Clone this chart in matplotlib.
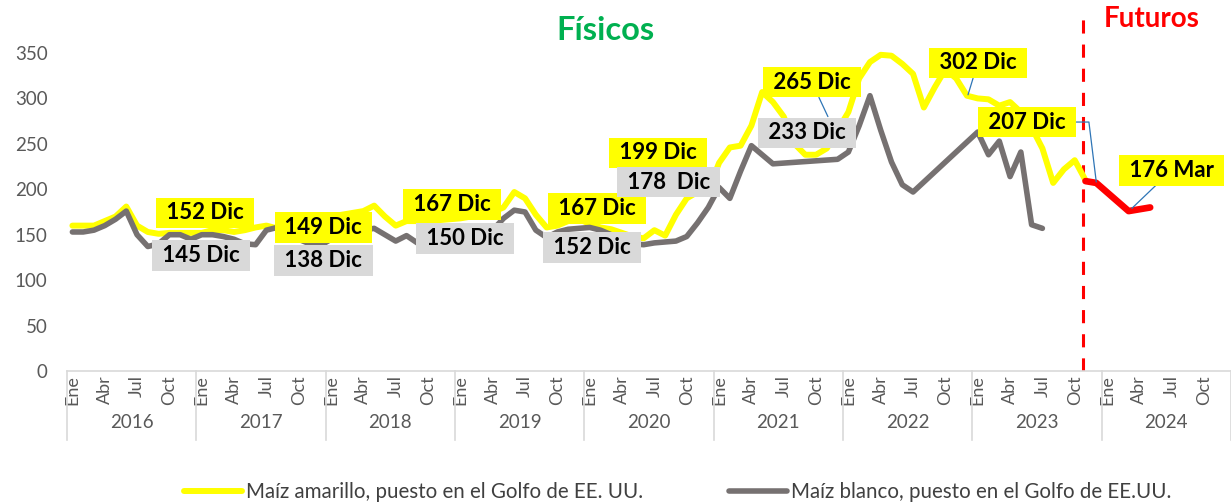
import numpy as np
import matplotlib
matplotlib.use('Agg')
import matplotlib.pyplot as plt
from matplotlib.lines import Line2D

plt.rcParams['font.family'] = ['Lato', 'DejaVu Sans']

# ------------ datos --------------------- #
years = [2016, 2017, 2018, 2019, 2020, 2021, 2022, 2023, 2024]
month_ticks = ['Ene', 'Abr', 'Jul', 'Oct']

# Maiz amarillo, Golfo EE.UU. (mensual desde Ene 2016)
amarillo = [160, 160, 160, 165, 170, 181, 160, 153, 151, 152, 152, 152,
            152, 155, 155, 153, 155, 158, 160, 157, 152, 150, 150, 149,
            170, 172, 174, 176, 182, 170, 160, 165, 165, 165, 166, 167,
            168, 170, 172, 175, 180, 197, 190, 172, 158, 160, 165, 167,
            162, 158, 156, 152, 148, 146, 155, 149, 172, 190, 197, 199,
            229, 246, 248, 270, 307, 296, 280, 250, 238, 238, 245, 265,
            285, 322, 340, 348, 347, 338, 327, 290, 312, 332, 322, 303,
            300, 299, 292, 296, 285, 268, 245, 207, 222, 232, 210]

# Maiz blanco, Golfo EE.UU. (nan = sin dato, la linea une los puntos)
nan = np.nan
blanco = [153, 153, 155, 160, 167, 176, 150, 137, 140, 150, 150, 145,
          150, 150, 148, 145, 140, 139, 155, 158, 150, 145, 140, 138,
          145, 148, 150, 155, 157, 150, 143, 149, 141, 144, 147, 150,
          150, 148, 150, 155, 168, 177, 175, 155, 147, 153, 156, 157,
          158, 155, 150, 145, 140, 139, 141, 142, 143, 148, 163, 180,
          202, 190, 220, 248, 238, 228, nan, nan, nan, nan, nan, 233,
          241, 270, 303, 265, 230, 205, 197, nan, nan, nan, nan, nan,
          263, 238, 253, 214, 241, 161, 157]

# Futuros (indice de mes, valor)
fut_mes = [94, 95, 98, 100]
futuros = [209, 207, 176, 180]
corte_mes = 93.8

# etiquetas: texto, color de caja, posicion (mes, valor), punto de la guia o None
etiquetas = [
    ('152 Dic', '#FFFF00', (12.3, 174), None),
    ('145 Dic', '#D9D9D9', (11.9, 127), None),
    ('149 Dic', '#FFFF00', (23.3, 158), None),
    ('138 Dic', '#D9D9D9', (23.3, 122), None),
    ('167 Dic', '#FFFF00', (35.2, 183), None),
    ('150 Dic', '#D9D9D9', (36.4, 146), None),
    ('167 Dic', '#FFFF00', (48.7, 179), None),
    ('152 Dic', '#D9D9D9', (48.2, 136), None),
    ('199 Dic', '#FFFF00', (54.3, 240), None),
    ('178  Dic', '#D9D9D9', (55.3, 208), None),
    ('265 Dic', '#FFFF00', (68.6, 318), (70.1, 280)),
    ('233 Dic', '#D9D9D9', (68.2, 262), None),
    ('302 Dic', '#FFFF00', (84.0, 339), (83.1, 304)),
    ('207 Dic', '#FFFF00', (88.6, 274), (95.0, 208)),
    ('176 Mar', '#FFFF00', (102.0, 221), (98.3, 179)),
]

# ------------ figura --------------------- #
fig = plt.figure(figsize=(12.31, 5.03), dpi=100)
ax = fig.add_axes([67/1231, 132/503, 1164/1231, 361/503])

x_am = np.arange(len(amarillo))
x_bl = np.arange(len(blanco))
bl = np.array(blanco, dtype=float)
ok = ~np.isnan(bl)

l1, = ax.plot(x_am, amarillo, color='#FFFF00', lw=4.3, solid_capstyle='round',
              solid_joinstyle='round', zorder=2)
l2, = ax.plot(x_bl[ok], bl[ok], color='#767171', lw=4.0, solid_capstyle='round',
              solid_joinstyle='round', zorder=3)
ax.plot(fut_mes, futuros, color='#FF0000', lw=4.8, solid_capstyle='round',
        solid_joinstyle='round', zorder=4)

ax.axvline(corte_mes, color='#FF0000', lw=2.2, ls=(0, (4.3, 3.6)), zorder=1)

for txt, fc, pos, guia in etiquetas:
    kw = dict(fontsize=16, fontweight='bold', color='black', ha='center', va='center',
              bbox=dict(boxstyle='square,pad=0.22', fc=fc, ec='none'), zorder=6)
    txt = ' ' + txt + ' '
    if guia is None:
        ax.text(pos[0], pos[1], txt, **kw)
    else:
        cs = 'angle,angleA=0,angleB=97,rad=0' if '207' in txt else 'arc3'
        ax.annotate(txt, xy=guia, xytext=pos,
                    arrowprops=dict(arrowstyle='-', color='#2E75B6', lw=0.9,
                                    shrinkA=0, shrinkB=0, connectionstyle=cs),
                    **kw)

ax.set_xlim(-0.5, 12 * len(years) - 0.5)
ax.set_ylim(0, 361 / 0.9086)
ax.set_yticks(np.arange(0, 351, 50))
ax.tick_params(axis='y', length=0, pad=14, labelsize=13.5, labelcolor='#595959')

ticks = [12 * i + 3 * j for i in range(len(years)) for j in range(4)]
ax.set_xticks(ticks)
ax.set_xticklabels(month_ticks * len(years), rotation=90, va='top', ha='center')
ax.tick_params(axis='x', length=0, pad=3, labelsize=13, labelcolor='#595959')

for s in ['top', 'right', 'left']:
    ax.spines[s].set_visible(False)
ax.spines['bottom'].set_color('#D9D9D9')
ax.spines['bottom'].set_linewidth(1.2)

trans = ax.get_xaxis_transform()
for i, yr in enumerate(years):
    ax.text(12 * i + 5.5, -0.144, str(yr), transform=trans, ha='center', va='center',
            fontsize=13.5, color='#595959')
for i in range(len(years) + 1):
    ax.add_line(Line2D([12 * i - 0.5] * 2, [0, -0.19], transform=trans, color='#D9D9D9',
                       lw=1.2, clip_on=False))

fig.text(605/1231, 1 - 30/503, 'Físicos', color='#00B050', fontsize=23.5,
         fontweight='bold', ha='center', va='center')
fig.text(1152/1231, 1 - 19/503, 'Futuros', color='#FF0000', fontsize=20,
         fontweight='bold', ha='center', va='center')

fig.legend([l1, l2], ['Maíz amarillo, puesto en el Golfo de EE. UU.',
                      'Maíz blanco, puesto en el Golfo de EE.UU.'],
           loc='center', bbox_to_anchor=(0.5504, 1 - 492/503), ncol=2, frameon=False,
           fontsize=14.8, labelcolor='#404040', handlelength=2.8, handletextpad=0.2,
           columnspacing=4.2)

fig.savefig('out.png', dpi=100)
